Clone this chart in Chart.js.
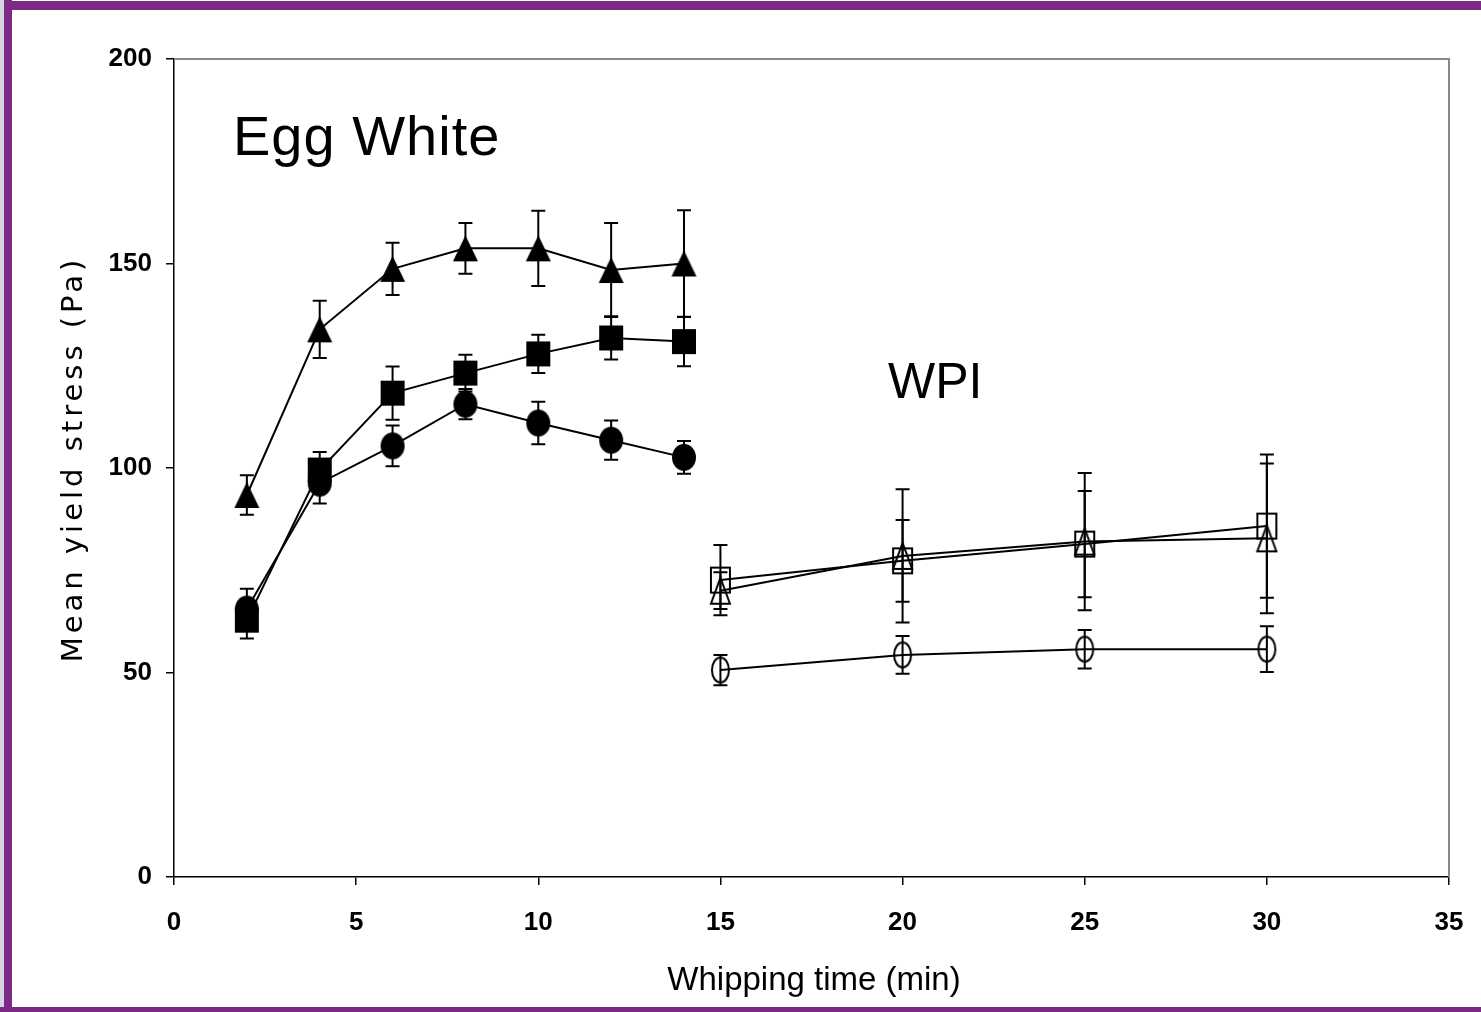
<!DOCTYPE html>
<html>
<head>
<meta charset="utf-8">
<script src="https://cdn.jsdelivr.net/npm/chart.js@4.4.1/dist/chart.umd.min.js"></script>
<style>
  html, body { margin: 0; padding: 0; background: #fff; }
  #wrap { position: relative; width: 1481px; height: 1012px; overflow: hidden; }
  #chart { position: absolute; left: 0; top: 0; }
  .band { position: absolute; background: #7b2a86; }
</style>
</head>
<body>
<div id="wrap">
  <canvas id="chart" width="1481" height="1012"></canvas>
  <div class="band" style="left:0;top:1px;width:1481px;height:9px;"></div>
  <div class="band" style="left:0;top:0;width:4px;height:1012px;background:#d6d6e0;"></div>
  <div class="band" style="left:4px;top:0;width:8px;height:1012px;"></div>
  <div class="band" style="left:0;top:1007px;width:1481px;height:5px;"></div>
</div>
<script>
// Tiempos de batido (min)
const eggTimes = [2, 4, 6, 8, 10, 12, 14];
const wpiTimes = [15, 20, 25, 30];

// Clara de huevo (marcadores rellenos)
const eggTriangle = [93.4, 133.9, 148.7, 153.7, 153.7, 148.4, 150.0];
const eggTriangleErr = [4.8, 7.0, 6.4, 6.2, 9.2, 11.5, 13.0];
const eggSquare = [62.8, 99.5, 118.3, 123.2, 127.9, 131.8, 130.9];
const eggSquareErr = [4.5, 4.4, 6.5, 4.5, 4.7, 5.3, 6.0];
const eggCircle = [65.5, 96.3, 105.4, 115.6, 111.0, 106.8, 102.6];
const eggCircleErr = [5.0, 5.0, 5.0, 3.7, 5.2, 4.8, 4.0];

// WPI (marcadores vacios)
const wpiSquare = [72.6, 77.3, 81.4, 85.8];
const wpiSquareErr = [8.6, 10.0, 13.0, 17.5];
const wpiTriangle = [70.0, 78.5, 82.0, 82.8];
const wpiTriangleErr = [4.5, 16.3, 16.8, 18.3];
const wpiCircle = [50.6, 54.3, 55.7, 55.7];
const wpiCircleErr = [3.7, 4.6, 4.7, 5.6];

const yTicks = [0, 50, 100, 150, 200];
const xTicks = [0, 5, 10, 15, 20, 25, 30, 35];

// Crear un marcador como canvas (Chart.js lo centra en el punto)
function makeMarker(shape, filled, w, h) {
    const c = document.createElement('canvas');
    c.width = w + 4;
    c.height = h + 4;
    const g = c.getContext('2d');
    g.beginPath();
    if (shape === 'triangle') {
        g.moveTo(c.width / 2, 2);
        g.lineTo(c.width - 2, c.height - 2);
        g.lineTo(2, c.height - 2);
        g.closePath();
    } else if (shape === 'square') {
        g.rect(2, 2, w, h);
    } else {
        g.ellipse(c.width / 2, c.height / 2, w / 2, h / 2, 0, 0, Math.PI * 2);
    }
    if (filled) {
        g.fillStyle = '#000';
        g.fill();
    } else {
        g.lineWidth = 2;
        g.strokeStyle = '#000';
        g.stroke();
    }
    return c;
}

function toPoints(xs, ys) {
    return xs.map((x, i) => ({ x: x, y: ys[i] }));
}

function serie(label, xs, ys, errs, marker) {
    return {
        label: label,
        data: toPoints(xs, ys),
        errors: errs,
        borderColor: '#000',
        borderWidth: 2,
        pointStyle: marker,
        pointRadius: 13,
        pointHoverRadius: 13,
        fill: false,
        tension: 0
    };
}

// Barras de error dibujadas con las escalas del grafico
const errorBars = {
    id: 'errorBars',
    afterDatasetsDraw(chart) {
        const ctx = chart.ctx;
        const xs = chart.scales.x;
        const ys = chart.scales.y;
        ctx.save();
        ctx.strokeStyle = '#000';
        ctx.lineWidth = 2;
        chart.data.datasets.forEach(ds => {
            ds.data.forEach((p, i) => {
                const e = ds.errors[i];
                const px = xs.getPixelForValue(p.x);
                const top = ys.getPixelForValue(p.y + e);
                const bot = ys.getPixelForValue(p.y - e);
                ctx.beginPath();
                ctx.moveTo(px, top);
                ctx.lineTo(px, bot);
                ctx.moveTo(px - 7, top);
                ctx.lineTo(px + 7, top);
                ctx.moveTo(px - 7, bot);
                ctx.lineTo(px + 7, bot);
                ctx.stroke();
            });
        });
        ctx.restore();
    }
};

// Marco gris y textos
const decor = {
    id: 'decor',
    beforeDatasetsDraw(chart) {
        const a = chart.chartArea;
        const ctx = chart.ctx;
        ctx.save();
        ctx.strokeStyle = '#888';
        ctx.lineWidth = 2;
        ctx.beginPath();
        ctx.moveTo(a.left, a.top);
        ctx.lineTo(a.right, a.top);
        ctx.lineTo(a.right, a.bottom);
        ctx.stroke();
        ctx.restore();
    },
    afterDraw(chart) {
        const ctx = chart.ctx;
        ctx.save();
        ctx.fillStyle = '#000';
        ctx.textBaseline = 'alphabetic';

        ctx.font = '56px "Liberation Sans", Arial, sans-serif';
        ctx.textAlign = 'left';
        ctx.letterSpacing = '1px';
        ctx.fillText('Egg White', 233, 155);

        ctx.font = '50px "Liberation Sans", Arial, sans-serif';
        ctx.letterSpacing = '0px';
        ctx.fillText('WPI', 888, 398);

        ctx.font = '33px "Liberation Sans", Arial, sans-serif';
        ctx.textAlign = 'center';
        ctx.fillText('Whipping time (min)', 814, 990);

        ctx.translate(82, 461);
        ctx.rotate(-Math.PI / 2);
        ctx.font = '29px "DejaVu Sans", Verdana, sans-serif';
        ctx.letterSpacing = '4px';
        ctx.fillText('Mean yield stress (Pa)', 2, 0);
        ctx.restore();
    }
};

const tickFont = { family: '"Liberation Sans", Arial, sans-serif', size: 26, weight: 'bold' };

new Chart(document.getElementById('chart').getContext('2d'), {
    type: 'line',
    data: {
        datasets: [
            serie('EW triangle', eggTimes, eggTriangle, eggTriangleErr, makeMarker('triangle', true, 25, 26)),
            serie('EW square', eggTimes, eggSquare, eggSquareErr, makeMarker('square', true, 24, 25)),
            serie('EW circle', eggTimes, eggCircle, eggCircleErr, makeMarker('circle', true, 24, 27)),
            serie('WPI square', wpiTimes, wpiSquare, wpiSquareErr, makeMarker('square', false, 19, 25)),
            serie('WPI triangle', wpiTimes, wpiTriangle, wpiTriangleErr, makeMarker('triangle', false, 19, 26)),
            serie('WPI circle', wpiTimes, wpiCircle, wpiCircleErr, makeMarker('circle', false, 17, 25))
        ]
    },
    options: {
        responsive: false,
        animation: false,
        devicePixelRatio: 1,
        layout: { padding: { top: 59, right: 32, left: 0, bottom: 0 } },
        plugins: { legend: { display: false }, tooltip: { enabled: false } },
        scales: {
            x: {
                type: 'linear',
                min: 0,
                max: 35,
                afterFit(scale) {
                    scale.height = 135;
                    scale.paddingLeft = 0;
                    scale.paddingRight = 0;
                },
                afterBuildTicks(scale) { scale.ticks = xTicks.map(v => ({ value: v })); },
                grid: { drawOnChartArea: false, drawTicks: true, tickLength: 8, color: '#000', lineWidth: 1.5 },
                border: { display: true, color: '#000', width: 1.5 },
                ticks: { color: '#000', font: tickFont, padding: 22, maxRotation: 0 }
            },
            y: {
                min: 0,
                max: 200,
                afterFit(scale) {
                    scale.width = 174;
                    scale.paddingTop = 0;
                    scale.paddingBottom = 0;
                },
                afterBuildTicks(scale) { scale.ticks = yTicks.map(v => ({ value: v })); },
                grid: { drawOnChartArea: false, drawTicks: true, tickLength: 8, color: '#000', lineWidth: 1.5 },
                border: { display: true, color: '#000', width: 1.5 },
                ticks: { color: '#000', font: tickFont, padding: 14 }
            }
        }
    },
    plugins: [decor, errorBars]
});
</script>
</body>
</html>
